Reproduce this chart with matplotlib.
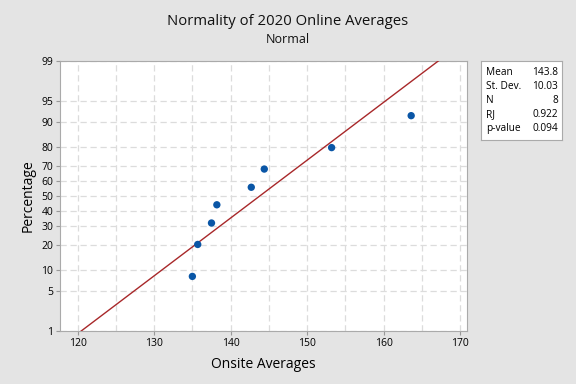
import numpy as np
import matplotlib
matplotlib.use("Agg")
import matplotlib.pyplot as plt
from statistics import NormalDist

onsite = [135.0, 135.7, 137.5, 138.2, 142.7, 144.4, 153.2, 163.6]
percent = [8.3, 20.2, 32.1, 44.0, 56.0, 67.9, 79.8, 91.7]
mean, sd, n, rj, pval = 143.8, 10.03, 8, 0.922, 0.094
yticks = [1, 5, 10, 20, 30, 40, 50, 60, 70, 80, 90, 95, 99]
xticks = [120, 130, 140, 150, 160, 170]

nd = NormalDist()
_ppf = np.vectorize(lambda p: nd.inv_cdf(min(max(p / 100.0, 1e-9), 1 - 1e-9)), otypes=[float])
_cdf = np.vectorize(lambda z: nd.cdf(z) * 100.0, otypes=[float])

plt.rcParams['font.family'] = ['Open Sans', 'DejaVu Sans']
bg = '#e4e4e4'
fig = plt.figure(figsize=(5.76, 3.84), dpi=100, facecolor=bg)
ax = fig.add_axes([0.1042, 0.138, 0.7066, 0.703])
ax.set_facecolor('white')
ax.set_yscale('function', functions=(_ppf, _cdf))
ax.set_ylim(1, 99)
ax.set_xlim(117.7, 170.9)

ax.set_xticks(xticks)
ax.set_xticks([125, 135, 145, 155, 165], minor=True)
ax.set_yticks(yticks)
ax.set_yticklabels([str(t) for t in yticks])
ax.yaxis.set_minor_locator(matplotlib.ticker.NullLocator())
ax.grid(True, which='both', axis='x', color='#dcdcdc', linestyle=(0, (5, 3)), linewidth=0.9)
ax.grid(True, which='major', axis='y', color='#dcdcdc', linestyle=(0, (5, 3)), linewidth=0.9)
ax.tick_params(axis='both', which='major', labelsize=7.5, length=3, color='#999999', pad=2)
ax.tick_params(axis='x', which='minor', length=0)
for s in ax.spines.values():
    s.set_color('#aaaaaa')

# fitted line
pline = np.array([0.5, 99.5])
xline = mean + sd * _ppf(pline)
ax.plot(xline, pline, color='#a8282a', linewidth=1.0, zorder=3)
ax.scatter(onsite, percent, s=28, color='#0a56a6', zorder=4, edgecolors='none')

ax.set_xlabel('Onsite Averages', fontsize=10, labelpad=6)
ax.set_ylabel('Percentage', fontsize=10, labelpad=4)

fig.text(0.5, 0.943, 'Normality of 2020 Online Averages', ha='center', va='center',
         fontsize=10.7, color='#111111')
fig.text(0.5, 0.897, 'Normal', ha='center', va='center', fontsize=9, color='#111111')

# stats box
box = fig.add_axes([481 / 576, 1 - 140 / 384, 81 / 576, 79 / 384])
box.set_facecolor('white')
box.set_xticks([]); box.set_yticks([])
for s in box.spines.values():
    s.set_color('#aaaaaa')
labels = ['Mean', 'St. Dev.', 'N', 'RJ', 'p-value']
vals = [f'{mean:.1f}', f'{sd:.2f}', f'{n}', f'{rj:.3f}', f'{pval:.3f}']
for i, (l, v) in enumerate(zip(labels, vals)):
    yy = 0.85 - i * 0.175
    box.text(0.06, yy, l, fontsize=7.3, va='center', ha='left', transform=box.transAxes)
    box.text(0.95, yy, v, fontsize=7.3, va='center', ha='right', transform=box.transAxes)

fig.savefig('out.png', dpi=100, facecolor=bg)
